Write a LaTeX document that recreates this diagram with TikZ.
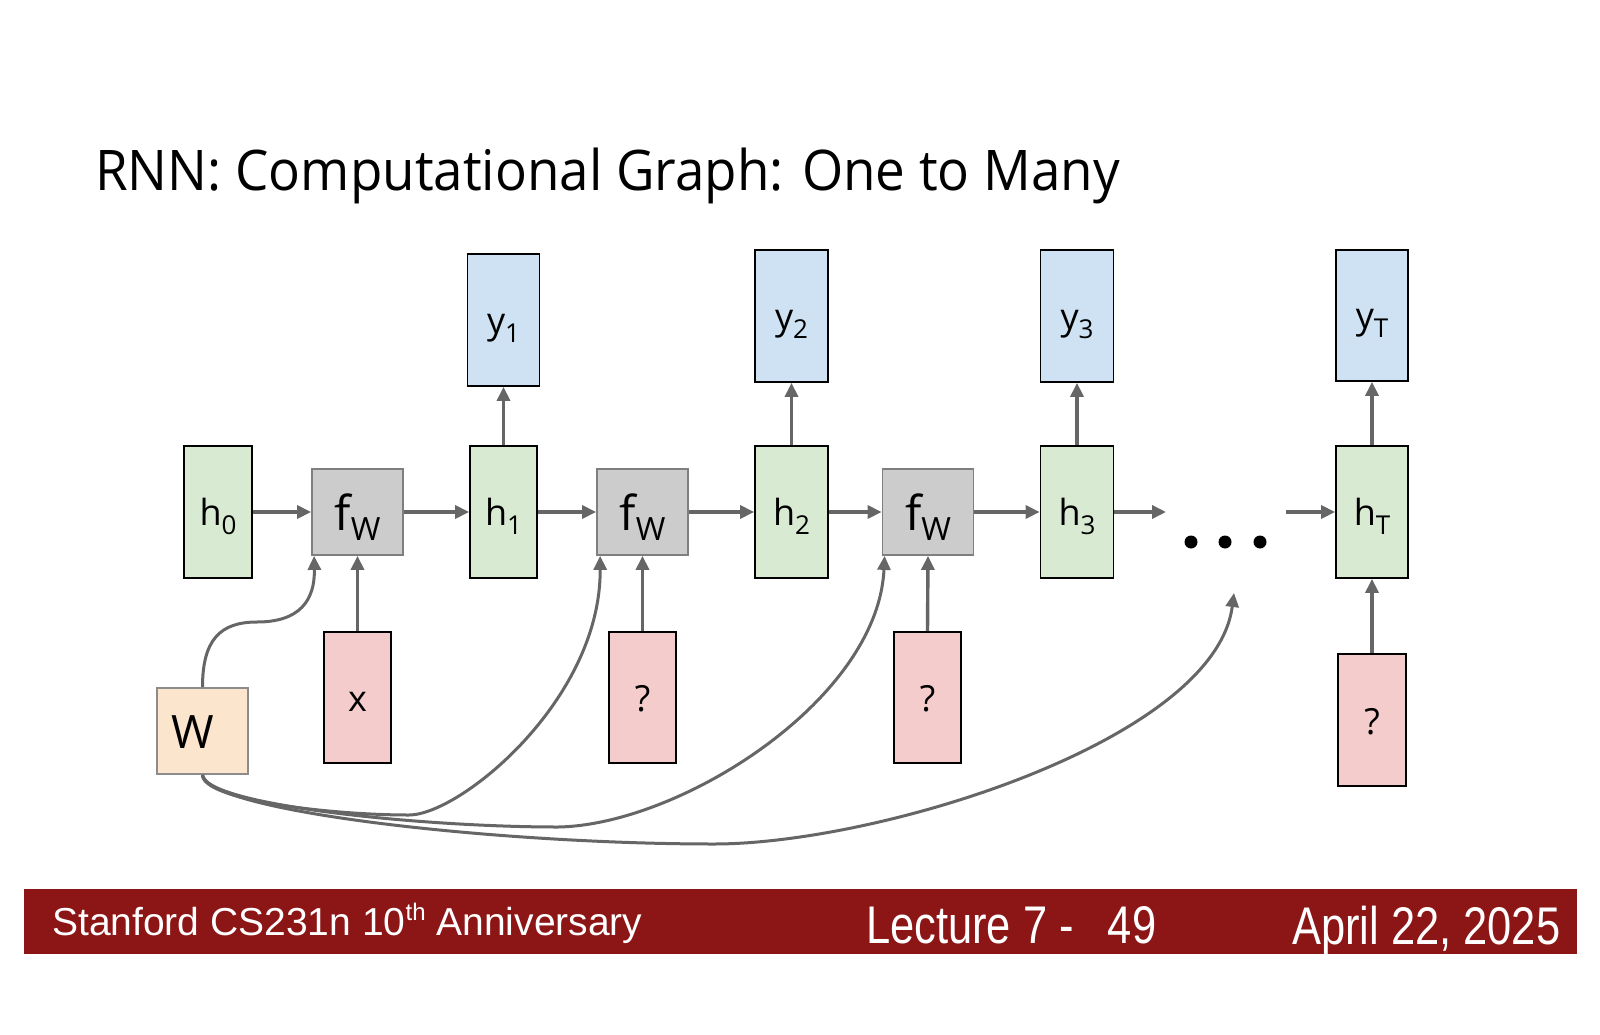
\documentclass[tikz,border=0pt]{standalone}
\usepackage{fontspec}
\setmainfont{Open Sans}
\newfontfamily\titlefont[FakeStretch=0.945]{Open Sans}
\newfontfamily\footfont{Liberation Sans}
\newfontfamily\footnarrow[FakeStretch=0.82]{Liberation Sans}
\usetikzlibrary{arrows.meta,calc}
\definecolor{hgreen}{HTML}{D9EAD3}
\definecolor{yblue}{HTML}{CFE2F3}
\definecolor{qpink}{HTML}{F4CCCC}
\definecolor{fgray}{HTML}{CCCCCC}
\definecolor{fborder}{HTML}{7F7F7F}
\definecolor{worange}{HTML}{FCE5CD}
\definecolor{wborder}{HTML}{8C8C8C}
\definecolor{agray}{HTML}{666666}
\definecolor{cardinal}{HTML}{8C1515}
\newcommand{\lab}[2]{#1\raisebox{-9pt}{\fontsize{26}{26}\selectfont #2}}
\newcommand{\fwlab}{{\fontsize{48}{48}\selectfont f\raisebox{-10pt}{\fontsize{32}{32}\selectfont W}}}
\begin{document}
\begin{tikzpicture}[x=1pt,y=-1pt,
  basebox/.style={draw=black, line width=1.8pt, inner sep=0pt,
    font=\fontsize{36}{40}\selectfont, text height=26pt, text depth=0pt},
  hbox/.style={basebox, fill=hgreen, minimum width=73pt, minimum height=132pt},
  ybox/.style={basebox, fill=yblue, minimum width=73pt, minimum height=132pt},
  qbox/.style={basebox, fill=qpink, minimum width=67pt, minimum height=131pt, text height=28pt},
  fwbox/.style={basebox, draw=fborder, fill=fgray, minimum width=91pt, minimum height=86pt, text height=36pt},
  wbox/.style={basebox, draw=wborder, fill=worange, minimum width=91pt, minimum height=86pt,
    font=\fontsize{46}{46}\selectfont, text height=34pt},
  arr/.style={draw=agray, line width=3.4pt, -{Triangle[length=14pt,width=13pt]}},
  carr/.style={draw=agray, line width=3pt, -{Triangle[length=14pt,width=13pt]}},
  dotc/.style={circle, fill=black, minimum size=13pt, inner sep=0pt},
  txt/.style={inner sep=0pt, anchor=base west}
]
\useasboundingbox (0,0) rectangle (1600,1035);
\fill[white] (0,0) rectangle (1600,1035);

% title
\node[txt, font=\titlefont\fontsize{56}{60}\selectfont] (title) at (95,190) {RNN: Computational Graph: One to Many};

% nodes
\node[hbox, minimum width=68pt] (h0) at (218,512) {\lab{h}{0}};
\node[fwbox] (f1) at (357.5,512) {\fwlab};
\node[hbox, minimum width=67pt] (h1) at (503.5,512) {\lab{h}{1}};
\node[ybox, minimum width=72pt] (y1) at (503.5,320) {\lab{y}{1}};
\node[qbox] (x) at (357.5,697.5) {x};
\node[wbox] (W) at (202.5,731) {\hspace*{-20pt}W};

\node[fwbox] (f2) at (642.5,512) {\fwlab};
\node[hbox] (h2) at (791.5,512) {\lab{h}{2}};
\node[ybox] (y2) at (791.5,316) {\lab{y}{2}};
\node[qbox] (q2) at (642.5,697.5) {?};

\node[fwbox] (f3) at (928,512) {\fwlab};
\node[hbox] (h3) at (1077,512) {\lab{h}{3}};
\node[ybox] (y3) at (1077,316) {\lab{y}{3}};
\node[qbox] (q3) at (927.5,697.5) {?};

\node[dotc] (d1) at (1191,542) {};
\node[dotc] (d2) at (1225,542) {};
\node[dotc] (d3) at (1260,542) {};

\node[hbox, minimum width=72pt] (hT) at (1372,512) {\lab{h}{T}};
\node[ybox, minimum width=72pt, minimum height=131pt] (yT) at (1372,315.5) {\lab{y}{T}};
\node[qbox, minimum width=68pt, minimum height=132pt] (qT) at (1372,720) {?};

% coordinates
\coordinate (e1) at (1166,512);
\coordinate (s1) at (1286,512);
\coordinate (dt) at (1234,593);
\coordinate (b0) at (257,622);
\coordinate (b1) at (409,815);
\coordinate (b2) at (558,827);
\coordinate (b3) at (714,844);

% horizontal arrows
\draw[arr] (h0) -- (f1);
\draw[arr] (f1) -- (h1);
\draw[arr] (h1) -- (f2);
\draw[arr] (f2) -- (h2);
\draw[arr] (h2) -- (f3);
\draw[arr] (f3) -- (h3);
\draw[arr] (h3.east) -- (e1);
\draw[arr] (s1) -- (hT.west);

% vertical arrows
\draw[arr] (h1.north) -- (y1.south);
\draw[arr] (h2.north) -- (y2.south);
\draw[arr] (h3.north) -- (y3.south);
\draw[arr] (hT.north) -- (yT.south);
\draw[arr] (x.north) -- (f1.south);
\draw[arr] (q2.north) -- (f2.south);
\draw[arr] (q3.north) -- (f3.south);
\draw[arr] (qT.north) -- (hT.south);

% W curves
\draw[carr] (W.north) .. controls (202.5,640) and (220,622) .. (b0)
  .. controls (300,622) and (315,600) .. ($(f1.south west)+(3,0)$);
\draw[carr] (W.south) .. controls (202.5,800) and (330,815) .. (b1)
  .. controls (460,815) and (601,700) .. ($(f2.south west)+(4,0)$);
\draw[carr] (W.south) .. controls (205,805) and (420,827) .. (b2)
  .. controls (680,825) and (878,700) .. ($(f3.south west)+(3,0)$);
\draw[carr] (W.south) .. controls (208,812) and (500,844) .. (b3)
  .. controls (880,844) and (1215,740) .. (dt);

% footer
\fill[cardinal] (23.5,888.5) rectangle (1576.5,953.5);
\node[txt, text=white, font=\footfont\fontsize{39}{42}\selectfont] (f_left) at (52,935)
  {Stanford CS231n 10\raisebox{14.5pt}{\fontsize{24}{24}\selectfont th} Anniversary};
\node[txt, text=white, font=\footnarrow\fontsize{53}{56}\selectfont] (f_mid) at (866,943.5)
  {Lecture 7 -\hspace{34pt}49};
\node[txt, text=white, font=\footnarrow\fontsize{53}{56}\selectfont] (f_right) at (1292,944)
  {April 22, 2025};
\end{tikzpicture}
\end{document}
